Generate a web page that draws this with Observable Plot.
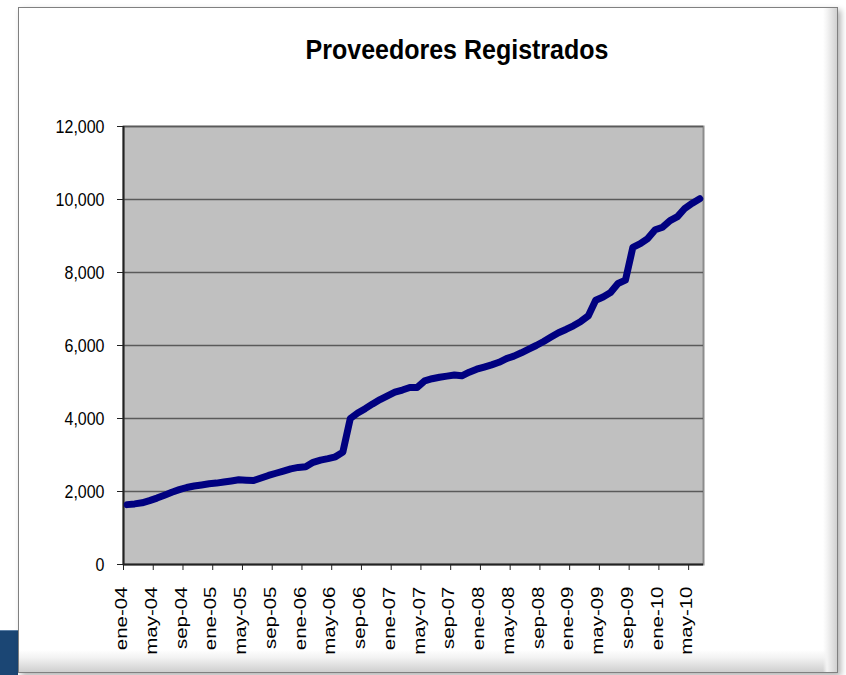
<!DOCTYPE html>
<html>
<head>
<meta charset="utf-8">
<script src="https://cdn.jsdelivr.net/npm/d3@7"></script>
<script src="https://cdn.jsdelivr.net/npm/@observablehq/plot@0.6"></script>
<style>
  html, body { margin: 0; padding: 0; background: #ffffff; }
  body { font-family: "Liberation Sans", Arial, sans-serif; }
  #wrap { position: relative; width: 846px; height: 675px; overflow: hidden; background: #fff; }
  #slide { position: absolute; left: 0; top: 630px; width: 18px; height: 45px; background: #1b4674; border-top: 1px solid #5b7fa6; }
  #frame { position: absolute; left: 18px; top: 7px; width: 818px; height: 664px;
           border: 1px solid #808080;
           background:
             linear-gradient(to left, #d0d0d0 0px, #f4f4f4 10px, rgba(255,255,255,0) 14px),
             linear-gradient(to top, #cfcfcf 0px, #f2f2f2 14px, #ffffff 22px);
           box-shadow: 3px 3px 6px rgba(0,0,0,0.3); }
  #title { position: absolute; left: 457px; top: 35px; transform: translateX(-50%) scaleY(1.08); transform-origin: 50% 50%;
           font-size: 25px; font-weight: bold; color: #000; white-space: nowrap; }
  #chart { position: absolute; left: 0; top: 100px; }
</style>
</head>
<body>
<div id="wrap">
  <div id="slide"></div>
  <div id="frame"></div>
  <div id="title">Proveedores Registrados</div>
  <div id="chart"></div>
</div>
<script>
// Monthly registered suppliers, ene-04 .. jun-10 (78 months)
const values = [
  1640, 1660, 1690, 1750, 1820, 1900, 1980, 2050, 2110, 2150, 2180, 2210,   // 2004
  2230, 2260, 2290, 2320, 2310, 2300, 2370, 2440, 2500, 2560, 2620, 2660,   // 2005
  2680, 2800, 2860, 2900, 2950, 3080, 4000, 4150, 4270, 4400, 4520, 4620,   // 2006
  4720, 4780, 4850, 4850, 5030, 5090, 5130, 5160, 5190, 5170, 5270, 5350,   // 2007
  5410, 5470, 5540, 5640, 5710, 5800, 5900, 6000, 6110, 6230, 6350, 6440,   // 2008
  6540, 6660, 6810, 7240, 7330, 7450, 7700, 7790, 8690, 8790, 8930, 9170,   // 2009
  9240, 9420, 9530, 9760, 9900, 10020                                       // 2010
];
const tickLabels = [
  "ene-04", "may-04", "sep-04", "ene-05", "may-05", "sep-05", "ene-06",
  "may-06", "sep-06", "ene-07", "may-07", "sep-07", "ene-08", "may-08",
  "sep-08", "ene-09", "may-09", "sep-09", "ene-10", "may-10"
];
const yTicks = [0, 2000, 4000, 6000, 8000, 10000, 12000];
const tickEvery = 4;

const n = values.length;
const labelIdx = tickLabels.map((_, k) => k * tickEvery);
const boundaryTicks = labelIdx.map(i => i - 0.5);
const fmt = d3.format(",");

const plot = Plot.plot({
  width: 846,
  height: 575,
  marginLeft: 123,
  marginRight: 143,
  marginTop: 26,
  marginBottom: 111,
  style: { fontFamily: "'Liberation Sans', Arial, sans-serif", background: "transparent", color: "#000" },
  x: { type: "linear", domain: [-0.5, n - 0.5], axis: null },
  y: { domain: [0, 12000], axis: null },
  marks: [
    Plot.frame({ fill: "#c0c0c0", stroke: "#8c8c8c", strokeWidth: 2 }),
    Plot.ruleY(yTicks.filter(v => v > 0), { stroke: "#5a5a5a", strokeWidth: 1.5 }),
    Plot.ruleX([-0.5], { stroke: "#222", strokeWidth: 2 }),
    Plot.ruleY([0], { stroke: "#222", strokeWidth: 2 }),
    Plot.axisY({ ticks: yTicks, tickFormat: fmt, tickSize: 6, tickPadding: 13, fontSize: 16, stroke: "#222", fill: "#000" }),
    Plot.axisX({ ticks: boundaryTicks, tickSize: 6, tickFormat: () => "", stroke: "#222" }),
    Plot.text(labelIdx, {
      x: d => d, text: (d, k) => tickLabels[k], frameAnchor: "bottom",
      rotate: -90, textAnchor: "end", dy: 22, fontSize: 16, fill: "#000"
    }),
    Plot.line(values, {
      x: (d, i) => i, y: d => d, stroke: "#000080", strokeWidth: 7,
      strokeLinejoin: "round", strokeLinecap: "round"
    })
  ]
});

// Stretch the label glyphs vertically as in the reference rendering
plot.querySelectorAll("text").forEach(t => {
  const tr = t.getAttribute("transform") || "";
  const x = +t.getAttribute("x") || 0, y = +t.getAttribute("y") || 0;
  const s = tr.includes("rotate") ? "scale(1.28,1)" : "scale(1,1.2)";
  t.setAttribute("transform", `${tr} translate(${x},${y}) ${s} translate(${-x},${-y})`);
});

document.getElementById("chart").appendChild(plot);
</script>
</body>
</html>
